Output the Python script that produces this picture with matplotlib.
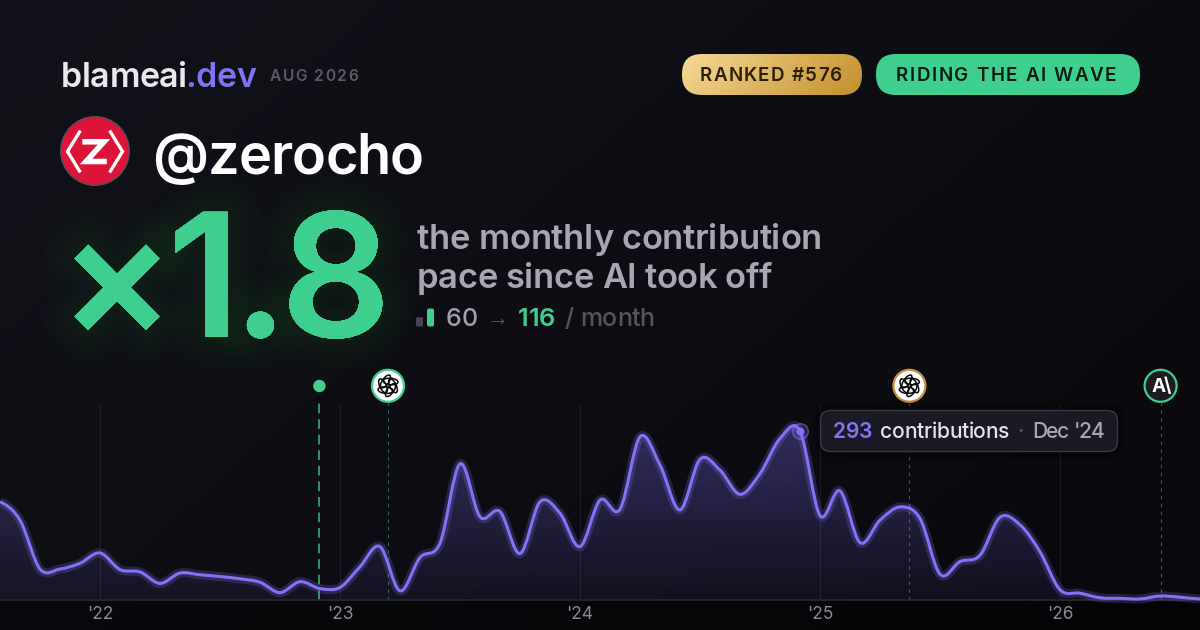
import numpy as np
import matplotlib
matplotlib.use("Agg")
import matplotlib.pyplot as plt
import matplotlib.patheffects as pe
from matplotlib.patches import Circle, Ellipse, FancyBboxPatch, PathPatch, Rectangle
from matplotlib.path import Path
from matplotlib.text import Text
from matplotlib.transforms import IdentityTransform

plt.rcParams['font.family'] = ['Inter', 'DejaVu Sans']

# ------------- data
# months counted from Jan '22 = 0
months = list(range(-5, 56))
contributions = [170, 138, 53, 53, 63, 81, 52, 48, 28, 46, 43, 40, 36, 30, 12, 31, 19, 21,
                 57, 92, 15, 73, 98, 236, 144, 153, 80, 170, 150, 92, 173, 157, 283, 234,
                 156, 244, 225, 183, 219, 280, 293, 146, 189, 99, 138, 161, 141, 44, 66,
                 77, 143, 130, 83, 17, 11, 3, 2, 1, 6, 4, 1]
year_ticks = [0, 12, 24, 36, 48]
year_labels = ["'22", "'23", "'24", "'25", "'26"]
launch_month = 10.97
event_months = [14.4, 40.47, 53.03]
event_colors = ['#3ecf8e', '#c8923e', '#3ecf8e']
pace_before = 60
pace_after = 116
peak_month = 35
peak_value = 293

GREEN = '#3ecf8e'
PURPLE = '#8272f4'

fig = plt.figure(figsize=(12, 6.3), dpi=100)

# ------------- background
bg = fig.add_axes([0, 0, 1, 1], zorder=0)
bg.axis('off')
yy, xx = np.mgrid[0:1:160j, 0:1:300j]
t = (xx * 0.75 + yy * 0.45)[..., None] / 1.2
bg.imshow(np.array([18, 18, 26]) / 255 * (1 - t) + np.array([8, 8, 12]) / 255 * t,
          aspect='auto', extent=(0, 1, 0, 1))


def catmull_path(x, y):
    # catmull-rom through the monthly points, written as beziers
    x = np.asarray(x, float)
    y = np.asarray(y, float)
    py = np.concatenate(([y[0]], y, [y[-1]]))
    verts = [(x[0], y[0])]
    codes = [Path.MOVETO]
    for i in range(len(x) - 1):
        verts += [(x[i] + 1 / 3, y[i] + (py[i + 2] - py[i]) / 6),
                  (x[i + 1] - 1 / 3, y[i + 1] - (py[i + 3] - py[i + 1]) / 6),
                  (x[i + 1], y[i + 1])]
        codes += [Path.CURVE4] * 3
    return verts, codes


# ------------- chart
chart = fig.add_axes([0, 30.5 / 630, 1, 196.5 / 630], zorder=1)
chart.patch.set_alpha(0)
xlim = (-100 / 20, 1100 / 20)
ylim = (0, 196.5 / 0.575)

verts, codes = catmull_path(months, contributions)
area = Path(verts + [(months[-1], 0), (months[0], 0), (months[0], 0)],
            codes + [Path.LINETO, Path.LINETO, Path.CLOSEPOLY])

grad = np.zeros((200, 2, 4))
grad[..., :3] = np.array([124, 108, 240]) / 255
grad[..., 3] = np.linspace(0.38, 0.07, 200)[:, None]
im = chart.imshow(grad, aspect='auto', extent=(*xlim, *ylim), zorder=1)
im.set_clip_path(PathPatch(area, transform=chart.transData))

chart.vlines(year_ticks, *ylim, color='#ffffff', alpha=0.07, lw=0.8, zorder=0.5)
for m, c in zip(event_months, event_colors):
    chart.plot([m, m], ylim, color=c, alpha=0.5, lw=0.8, ls=(0, (3, 4)), zorder=2)
chart.plot([launch_month] * 2, ylim, color=GREEN, alpha=0.7, lw=1.4, ls=(0, (5, 3)), zorder=2)

chart.add_patch(PathPatch(Path(verts, codes), fc='none', ec=PURPLE, alpha=0.22, lw=6.5,
                          zorder=3, clip_on=False))
chart.add_patch(PathPatch(Path(verts, codes), fc='none', ec=PURPLE, lw=2.2, zorder=4, clip_on=False))

chart.scatter([peak_month], [peak_value], s=125, fc=(0.51, 0.45, 0.96, 0.2), ec=(0.51, 0.45, 0.96, 0.6),
              lw=1, zorder=5, clip_on=False)
chart.scatter([peak_month], [peak_value], s=30, fc=PURPLE, lw=0, zorder=6, clip_on=False)

chart.set_xlim(xlim)
chart.set_ylim(ylim)
chart.set_yticks([])
chart.set_xticks(year_ticks, year_labels)
chart.tick_params(axis='x', length=0, pad=5, labelsize=12.5, labelcolor='#8a8a96')
for name, spine in chart.spines.items():
    spine.set_visible(name == 'bottom')
chart.spines['bottom'].set_color('#2a2a32')
chart.spines['bottom'].set_linewidth(1.2)

# ------------- overlay, in picture pixels
ov = fig.add_axes([0, 0, 1, 1], zorder=2)
ov.set_xlim(0, 1200)
ov.set_ylim(630, 0)
ov.axis('off')

bg.add_patch(Rectangle((0, 0), 1, 30 / 630, fc='#000000', alpha=0.4, lw=0, transform=bg.transAxes))


def px(m):
    return chart.transData.transform((m, 0))[0]


class TrackedText(Text):
    # one string, drawn glyph by glyph so it can have letter spacing
    track = 0

    def draw(self, renderer):
        x0, y0 = self.get_transform().transform(self.get_position())
        s = self.get_text()
        prop = self.get_fontproperties()
        bar = renderer.get_text_width_height_descent('|', prop, False)[0]
        for i, ch in enumerate(s):
            w = renderer.get_text_width_height_descent(s[:i] + '|', prop, False)[0] - bar if i else 0
            g = Text(x0 + w + i * self.track, y0, ch, fontproperties=prop, color=self.get_color(),
                     va='baseline', ha='left', transform=IdentityTransform())
            g.set_path_effects(self.get_path_effects())
            g.set_figure(self.get_figure())
            g.draw(renderer)


def label(x, y, s, size, color, weight=500, track=0, zorder=3, **kw):
    kw.setdefault('va', 'baseline')
    t = TrackedText(x, y, s, fontsize=size * 0.72, color=color, fontweight=weight, zorder=zorder, **kw)
    t.track = track
    t.set_transform(ov.transData)
    ov.add_artist(t)
    return t


def pill(x0, y0, x1, y1, r, **kw):
    p = FancyBboxPatch((x0 + r, y0 + r), x1 - x0 - 2 * r, y1 - y0 - 2 * r,
                       boxstyle='round,pad=%f,rounding_size=%f' % (r, r), mutation_aspect=1, **kw)
    ov.add_patch(p)
    return p


# header
label(61, 87, 'blameai', 34, '#e8e8ee', 600, track=-0.4)
label(185, 87, '.dev', 34, PURPLE, 600, track=-0.3)
label(270, 81, 'AUG 2026', 15.5, '#5b5b69', 600, track=1.5)

# ranked pill with a gradient
rank = pill(682, 54, 862, 95, 20, fc='none', ec='none')
gx = np.linspace(0, 1, 200)[None, :, None]
gy = np.linspace(0, 0.18, 20)[:, None, None]
rank_grad = np.clip(gx * 0.85 + gy, 0, 1)
rank_im = ov.imshow(np.array([246, 218, 150]) / 255 * (1 - rank_grad) + np.array([196, 145, 46]) / 255 * rank_grad,
                    extent=(682, 862, 95, 54), aspect='auto', zorder=1)
rank_im.set_clip_path(rank)
ov.set_xlim(0, 1200)
ov.set_ylim(630, 0)
label(700, 81, 'RANKED #576', 18.8, '#2a2009', 600, track=1.2)
pill(876, 54, 1140, 95, 20, fc=GREEN, ec='none')
label(896, 81, 'RIDING THE AI WAVE', 18.8, '#0b1a14', 600, track=1.6)

# avatar
ov.add_patch(Circle((95, 151), 34.3, fc='#dc1438', ec='#55505a', lw=1))
ov.plot([79.5, 67.5, 79.5], [132, 151.5, 171], color='white', lw=2.4, solid_joinstyle='miter')
ov.plot([110.5, 122.5, 110.5], [132, 151.5, 171], color='white', lw=2.4, solid_joinstyle='miter')
ov.plot([85, 104, 86, 104], [141.8, 141.8, 161.5, 161.5], color='white', lw=4, solid_joinstyle='miter')

label(152.5, 174, '@zerocho', 56, '#ffffff', 600, track=-0.9)

# big number with glow
big = label(59, 337, '×1.8', 172, GREEN, 600, track=-7.2)
big.set_path_effects([pe.withStroke(linewidth=w, foreground=GREEN, alpha=0.006) for w in range(52, 2, -4)] + [pe.Normal()])

label(417, 249, 'the monthly contribution', 34.5, '#a6a6b4', 600, track=-0.27)
label(417, 288, 'pace since AI took off', 34.5, '#a6a6b4', 600, track=-0.38)

# pace bars
bar_scale = 0.155
pill(416, 326.5 - pace_before * bar_scale, 423, 326.5, 1.5, fc='#474752', ec='none')
pill(427, 326.5 - pace_after * bar_scale, 434, 326.5, 2, fc=GREEN, ec='none')
label(446, 326, str(pace_before), 25, '#a0a0ac', 500)
ov.text(487, 324.5, '→', fontsize=22 * 0.72, color='#55555f', family=['Liberation Sans', 'DejaVu Sans'])
label(518, 326, str(pace_after), 25.5, GREEN, 600)
label(565, 326, '/ month', 25, '#55555f', 500, track=-0.3)

# event badges
for m, c, fill in zip(event_months, event_colors, ['white', 'white', '#1b1b20']):
    cx = px(m)
    ov.add_patch(Circle((cx, 385.8), 16, fc=fill, ec=c, lw=1.6, zorder=4))
    if fill == 'white':
        for k in range(6):
            a = np.radians(k * 60)
            ov.add_patch(Ellipse((cx + 5 * np.cos(a), 385.8 + 5 * np.sin(a)), 15, 6.5, angle=k * 60 + 65,
                                 fc='none', ec='#0a0a0a', lw=1.1, zorder=5))
    else:
        label(cx - 9.5, 392, 'A\\', 19, 'white', 700, track=-1.5, zorder=5)
ov.add_patch(Circle((px(launch_month), 386), 6.2, fc=GREEN, ec='none', zorder=4))

# tooltip
for grow, a in ((10, 0.06), (6, 0.08), (3, 0.1)):
    pill(820 - grow, 410 - grow, 1118 + grow, 452 + grow, 10 + grow, fc='black', ec='none', alpha=a, zorder=6)
pill(820.5, 410.5, 1117.5, 451.5, 10, fc='#1a1a24', ec='#3b3b45', lw=1, zorder=7)
label(833, 438, '293', 21, '#8474f2', 600, zorder=8)
label(880, 438, 'contributions', 21, '#e4e4ea', 500, track=-0.3, zorder=8)
label(1017, 438, '·', 21, '#5b5b69', 500, zorder=8)
label(1032, 438, "Dec '24", 21, '#a6a6b4', 500, track=-1, zorder=8)

fig.savefig('out.png', dpi=100, facecolor='#0c0c12')
